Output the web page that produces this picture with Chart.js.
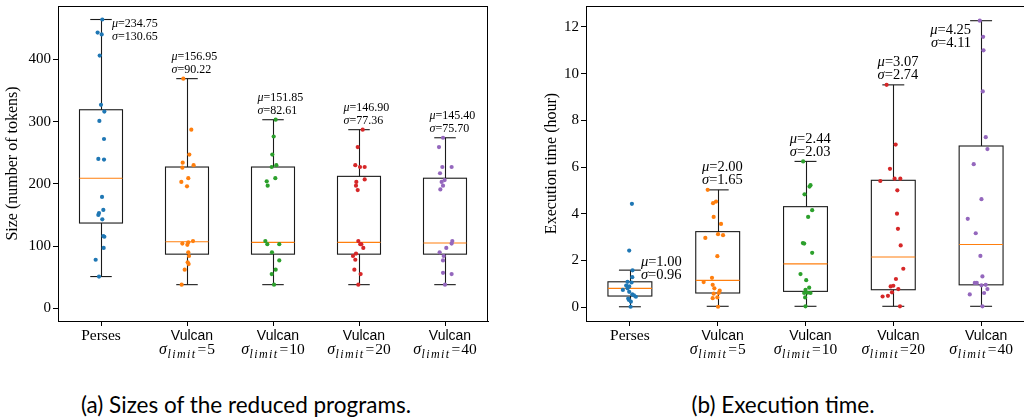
<!DOCTYPE html>
<html>
<head>
<meta charset="utf-8">
<script src="https://cdn.jsdelivr.net/npm/chart.js@4.4.1/dist/chart.umd.min.js"></script>
<style>
  body { margin: 0; width: 1024px; height: 419px; overflow: hidden; background: #fff; position: relative; }
  canvas { position: absolute; top: 0; }
  .cap { position: absolute; top: 391px; font-family: Lato, "Noto Sans", sans-serif; font-size: 22.5px; line-height: 27px; color: #000; text-align: center; white-space: nowrap; }
</style>
</head>
<body>
<canvas id="sizeChart" width="500" height="370" style="left:0"></canvas>
<canvas id="timeChart" width="500" height="370" style="left:530px"></canvas>
<div class="cap" style="left:46px;width:400px">(a) Sizes of the reduced programs.</div>
<div class="cap" style="left:583px;width:400px">(b) Execution time.</div>
<script>
const categories = ["Perses", "Vulcan", "Vulcan", "Vulcan", "Vulcan"];
const sigmaLimits = [null, 5, 10, 20, 40];
const pointColors = ["#1f77b4", "#ff7f0e", "#2ca02c", "#d62728", "#9467bd"];

// (a) sizes of the reduced programs, number of tokens
const sizePerses = [464, 443, 440, 406, 327, 316, 301, 272, 240, 239, 179, 158, 153, 150, 143, 116, 115, 97, 78, 51];
const sizePersesJitter = [0.015, -0.039, 0.008, -0.015, 0, 0.039, -0.019, 0.035, -0.031, 0.035, 0.012, 0.027, -0.023, -0.031, 0.015, 0.027, 0.039, 0.031, -0.062, -0.023];
const sizeV5 = [369, 287, 247, 234, 230, 226, 209, 203, 196, 106, 108, 104, 102, 90, 84, 74, 71, 62, 38];
const sizeV5Jitter = [-0.043, 0.05, 0.027, -0.05, 0.077, -0.054, 0.015, -0.066, 0, 0.015, 0.07, -0.054, 0.004, 0.015, 0.023, 0.008, 0.019, -0.027, -0.062];
const sizeV10 = [303, 276, 247, 227, 230, 209, 204, 197, 108, 103, 103, 90, 77, 62, 55, 38];
const sizeV10Jitter = [0.031, 0.008, -0.008, -0.015, 0.039, 0.027, -0.073, -0.062, -0.089, -0.066, 0.073, -0.012, 0.073, 0.031, -0.015, 0.012];
const sizeV20 = [287, 259, 230, 227, 227, 207, 203, 197, 190, 108, 103, 103, 97, 88, 84, 78, 62, 55, 38];
const sizeV20Jitter = [0.043, -0.015, -0.043, 0.012, 0.066, 0.066, -0.031, -0.035, -0.015, -0.008, 0.015, 0.027, 0.05, -0.035, -0.07, -0.043, -0.054, 0.019, -0.008];
const sizeV40 = [274, 259, 227, 227, 217, 206, 203, 197, 191, 108, 104, 97, 90, 84, 77, 57, 55, 38];
const sizeV40Jitter = [-0.023, -0.07, -0.031, 0.077, -0.058, -0.004, -0.039, -0.023, -0.054, 0.085, 0.077, 0.015, -0.062, -0.015, -0.023, -0.023, 0.077, 0];

const sizeLow = [51, 38, 38, 38, 38];
const sizeQ1 = [137, 87, 87, 87, 87];
const sizeMedian = [209, 107, 106, 106, 105];
const sizeQ3 = [319, 227, 227, 212, 209];
const sizeHigh = [464, 369, 303, 287, 274];
const sizeMean = [234.75, 156.95, 151.85, 146.90, 145.40];
const sizeStd = [130.65, 90.22, 82.61, 77.36, 75.70];
const sizeTicks = [0, 100, 200, 300, 400];

// (b) execution time, hours
const timePerses = [4.42, 2.42, 1.57, 1.28, 1.08, 1.05, 0.92, 0.88, 0.80, 0.73, 0.65, 0.54, 0.50, 0.44, 0.36, 0.30, 0.23, 0.01];
const timePersesJitter = [0.023, -0.008, 0.03, 0.027, -0.027, 0.019, -0.042, -0.008, -0.027, -0.08, -0.008, 0.027, 0.046, 0.068, -0.019, -0.011, 0.011, 0.008];
const timeV5 = [5.02, 4.52, 4.45, 3.86, 3.56, 3.12, 3.08, 2.96, 2.18, 1.25, 1.07, 0.95, 0.80, 0.70, 0.57, 0.60, 0.38, 0.41, 0.01];
const timeV5Jitter = [-0.114, -0.019, -0.053, -0.046, 0.038, 0.004, 0.061, -0.141, -0.004, -0.065, -0.16, -0.057, -0.038, 0.023, -0.046, 0.011, -0.057, -0.004, 0.004];
const timeV10 = [6.24, 5.22, 5.16, 4.83, 4.15, 3.86, 2.74, 2.72, 2.32, 1.41, 1.15, 0.83, 0.74, 0.61, 0.60, 0.60, 0.41, 0.03];
const timeV10Jitter = [-0.027, 0.057, 0.046, -0.011, 0.076, 0.03, -0.03, -0.015, 0.076, -0.057, 0.008, 0.042, 0, 0.023, 0.057, -0.015, -0.004, 0];
const timeV20 = [9.52, 6.96, 5.92, 5.40, 5.50, 5.50, 5.00, 4.00, 3.35, 2.64, 1.64, 1.20, 0.88, 0.91, 0.77, 0.63, 0.45, 0.48, 0.03];
const timeV20Jitter = [-0.076, 0.027, -0.038, -0.148, 0.015, 0.08, 0.046, 0.042, 0.053, 0.084, 0.114, 0.03, -0.03, 0, 0.057, -0.015, -0.122, -0.061, 0.076];
const timeV40 = [12.27, 11.58, 11.0, 9.24, 7.28, 6.77, 6.12, 4.62, 3.78, 3.16, 2.19, 1.31, 1.03, 1.03, 0.93, 0.95, 0.77, 0.54, 0.60, 0.03];
const timeV40Jitter = [-0.015, 0.023, 0.027, 0.019, 0.053, 0.072, -0.084, 0.004, -0.152, -0.061, -0.008, 0.015, -0.072, -0.049, 0.004, 0.053, 0.072, -0.129, 0.034, 0.015];

const timeLow = [0.01, 0.03, 0.03, 0.03, 0.03];
const timeQ1 = [0.47, 0.60, 0.67, 0.74, 0.95];
const timeMedian = [0.80, 1.14, 1.85, 2.14, 2.68];
const timeQ3 = [1.08, 3.23, 4.30, 5.43, 6.90];
const timeHigh = [1.58, 5.02, 6.24, 9.52, 12.27];
const timeMean = [1.00, 2.00, 2.44, 3.07, 4.25];
const timeStd = [0.96, 1.65, 2.03, 2.74, 4.11];
const timeTicks = [0, 2, 4, 6, 8, 10, 12];

const serif = "'Liberation Serif', 'DejaVu Serif', serif";
const sans = "'Liberation Sans', 'DejaVu Sans', sans-serif";

function line(ctx, x1, y1, x2, y2) {
  ctx.beginPath();
  ctx.moveTo(x1, y1);
  ctx.lineTo(x2, y2);
  ctx.stroke();
}

function drawParts(ctx, parts, x, y, align) {
  let total = 0;
  parts.forEach((p) => {
    ctx.font = p.font;
    ctx.letterSpacing = p.spacing || "0px";
    total += ctx.measureText(p.text).width + (p.gap || 0);
  });
  let cx = align === "right" ? x - total : align === "center" ? x - total / 2 : x;
  parts.forEach((p) => {
    ctx.font = p.font;
    ctx.letterSpacing = p.spacing || "0px";
    ctx.fillText(p.text, cx, y + (p.dy || 0));
    cx += ctx.measureText(p.text).width + (p.gap || 0);
  });
  ctx.letterSpacing = "0px";
}

function makeBoxPlugin(stats, annot) {
  return {
    id: "boxes",
    beforeDatasetsDraw(chart) {
      const { ctx, scales: { x, y } } = chart;
      ctx.save();
      ctx.lineWidth = 1.1;
      stats.median.forEach((m, i) => {
        const pos = i + 1;
        const xc = Math.round(x.getPixelForValue(pos)) + 0.5;
        const xl = x.getPixelForValue(pos - 0.25);
        const xr = x.getPixelForValue(pos + 0.25);
        const cl = x.getPixelForValue(pos - 0.125);
        const cr = x.getPixelForValue(pos + 0.125);
        const yLo = y.getPixelForValue(stats.low[i]);
        const yQ1 = y.getPixelForValue(stats.q1[i]);
        const yQ3 = y.getPixelForValue(stats.q3[i]);
        const yHi = y.getPixelForValue(stats.high[i]);
        ctx.strokeStyle = "#1a1a1a";
        ctx.strokeRect(xl, yQ3, xr - xl, yQ1 - yQ3);
        line(ctx, xc, yQ3, xc, yHi);
        line(ctx, xc, yQ1, xc, yLo);
        line(ctx, cl, yHi, cr, yHi);
        line(ctx, cl, yLo, cr, yLo);
        ctx.strokeStyle = "#ff7f0e";
        const yM = y.getPixelForValue(m);
        line(ctx, xl, yM, xr, yM);
      });
      ctx.restore();
    },
    afterDraw(chart) {
      const { ctx, chartArea: a, scales: { x, y } } = chart;
      ctx.save();
      ctx.strokeStyle = "#000";
      ctx.lineWidth = 1;
      line(ctx, a.left, Math.round(a.top) + 0.5, a.right, Math.round(a.top) + 0.5);
      line(ctx, Math.round(a.right) - 0.5, a.top, Math.round(a.right) - 0.5, a.bottom);

      ctx.fillStyle = "#000";
      ctx.textBaseline = "alphabetic";
      const fs = annot.size;
      stats.mean.forEach((mu, i) => {
        const pos = i + 1;
        const lay = annot.layout[i];
        const px = x.getPixelForValue(pos) + lay.dx;
        const py = y.getPixelForValue(stats.high[i]);
        drawParts(ctx, [
          { text: "μ", font: "italic " + fs + "px " + serif },
          { text: "=" + mu.toFixed(2), font: fs + "px " + serif }
        ], px, py + lay.dy, lay.align);
        drawParts(ctx, [
          { text: "σ", font: "italic " + fs + "px " + serif },
          { text: "=" + stats.std[i].toFixed(2), font: fs + "px " + serif }
        ], px, py + lay.dy + annot.lineGap, lay.align);
      });

      const base = a.bottom + 18.5;
      categories.forEach((name, i) => {
        const cx = x.getPixelForValue(i + 1);
        if (sigmaLimits[i] === null) {
          ctx.font = "15.5px " + serif;
          ctx.textAlign = "center";
          ctx.fillText(name, cx, base);
          ctx.textAlign = "left";
          return;
        }
        ctx.font = "14px " + sans;
        ctx.textAlign = "center";
        ctx.fillText(name, cx + 5, base);
        ctx.textAlign = "left";
        drawParts(ctx, [
          { text: "σ", font: "italic 16px " + serif, gap: 0.5 },
          { text: "limit", font: "italic 12px " + serif, spacing: "1.4px", dy: 4.5, gap: 1 },
          { text: "=", font: "15.5px " + serif, gap: 1 },
          { text: String(sigmaLimits[i]), font: "15.5px " + serif }
        ], cx, base + 14, "center");
      });
      ctx.restore();
    }
  };
}

function buildBoxChart(id, groups, jitters, stats, axis, annot) {
  const ctx = document.getElementById(id).getContext("2d");
  new Chart(ctx, {
    type: "scatter",
    data: {
      datasets: groups.map((values, i) => ({
        data: values.map((v, k) => ({ x: i + 1 + jitters[i][k], y: v })),
        backgroundColor: pointColors[i],
        borderWidth: 0,
        pointRadius: 2.1
      }))
    },
    options: {
      responsive: false,
      animation: false,
      events: [],
      layout: { padding: axis.padding },
      plugins: { legend: { display: false }, tooltip: { enabled: false } },
      scales: {
        x: {
          type: "linear",
          min: 0.5,
          max: 5.5,
          afterBuildTicks: (s) => { s.ticks = categories.map((c, i) => ({ value: i + 1 })); },
          ticks: { display: false },
          grid: { drawOnChartArea: false, tickLength: 5, color: "#000" },
          border: { color: "#000", width: 1 },
          afterFit: (s) => { s.height = 49; s.paddingLeft = 0; s.paddingRight = 0; }
        },
        y: {
          min: axis.min,
          max: axis.max,
          afterBuildTicks: (s) => { s.ticks = axis.ticks.map((v) => ({ value: v })); },
          ticks: { color: "#000", padding: 2, font: { family: serif, size: 15 }, callback: (v) => String(v) },
          grid: { drawOnChartArea: false, tickLength: 5, color: "#000" },
          border: { color: "#000", width: 1 },
          title: {
            display: true,
            text: axis.title,
            color: "#000",
            font: { family: serif, size: 16 },
            padding: { top: axis.titlePad, bottom: 0 }
          },
          afterFit: (s) => { s.width = axis.width; s.paddingTop = 0; s.paddingBottom = 0; }
        }
      }
    },
    plugins: [makeBoxPlugin(stats, annot)]
  });
}

buildBoxChart(
  "sizeChart",
  [sizePerses, sizeV5, sizeV10, sizeV20, sizeV40],
  [sizePersesJitter, sizeV5Jitter, sizeV10Jitter, sizeV20Jitter, sizeV40Jitter],
  { low: sizeLow, q1: sizeQ1, median: sizeMedian, q3: sizeQ3, high: sizeHigh, mean: sizeMean, std: sizeStd },
  { min: -20.4, max: 485.7, ticks: sizeTicks, title: "Size (number of tokens)", width: 58, titlePad: 3.4,
    padding: { left: 0, right: 12, top: 6, bottom: 0 } },
  { size: 12, lineGap: 13, layout: [
    { align: "left", dx: 11, dy: 7.2 },
    { align: "left", dx: -15.5, dy: -18.5 },
    { align: "left", dx: -15.5, dy: -18.5 },
    { align: "left", dx: -15.5, dy: -18.5 },
    { align: "left", dx: -15.5, dy: -18.5 }
  ] }
);

buildBoxChart(
  "timeChart",
  [timePerses, timeV5, timeV10, timeV20, timeV40],
  [timePersesJitter, timeV5Jitter, timeV10Jitter, timeV20Jitter, timeV40Jitter],
  { low: timeLow, q1: timeQ1, median: timeMedian, q3: timeQ3, high: timeHigh, mean: timeMean, std: timeStd },
  { min: -0.6, max: 12.9, ticks: timeTicks, title: "Execution time (hour)", width: 56, titlePad: 12.1,
    padding: { left: 0, right: 5, top: 6, bottom: 0 } },
  { size: 14.5, lineGap: 13, layout: [
    { align: "left", dx: 11, dy: -4.3 },
    { align: "left", dx: -15.7, dy: -18.8 },
    { align: "left", dx: -15.7, dy: -18.8 },
    { align: "left", dx: -15.7, dy: -18.8 },
    { align: "right", dx: -10, dy: 13 }
  ] }
);
</script>
</body>
</html>
